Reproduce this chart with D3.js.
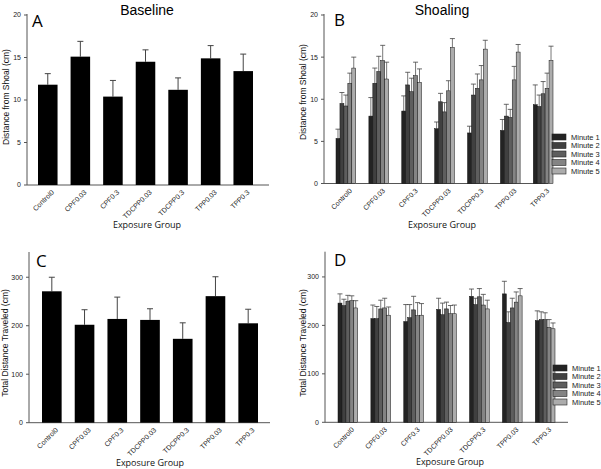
<!DOCTYPE html>
<html>
<head>
<meta charset="utf-8">
<script src="https://cdn.jsdelivr.net/npm/d3@7"></script>
<style>
  body { margin: 0; background: #fff; }
  svg { display: block; font-family: "Liberation Sans", Arial, sans-serif; }
</style>
</head>
<body>
<svg id="fig" width="601" height="469"></svg>
<script>
// groups on the x axis
var groups = ["Control0", "CPF0.03", "CPF0.3", "TDCPP0.03", "TDCPP0.3", "TPP0.03", "TPP0.3"];
var minutes = ["Minute 1", "Minute 2", "Minute 3", "Minute 4", "Minute 5"];

// A: baseline distance from shoal (mean, mean+sem)
var baselineMean = [11.8, 15.1, 10.4, 14.5, 11.2, 14.9, 13.4];
var baselineErr  = [13.1, 16.9, 12.3, 15.9, 12.6, 16.4, 15.4];

// B: shoaling per minute, one row per group
var shoalMean = [
  [5.35, 9.5, 9.2, 11.9, 13.7],
  [8.0, 11.9, 13.3, 14.6, 12.4],
  [8.6, 11.7, 10.9, 12.8, 12.0],
  [6.5, 9.7, 8.5, 11.0, 16.15],
  [6.0, 10.5, 11.3, 12.3, 15.95],
  [6.3, 8.0, 7.85, 12.3, 15.6],
  [9.35, 9.15, 10.65, 11.3, 14.6]
];
var shoalErr = [
  [6.45, 10.8, 10.5, 13.1, 15.0],
  [10.2, 13.7, 15.1, 16.4, 14.4],
  [10.4, 13.2, 12.5, 14.4, 13.6],
  [7.3, 10.7, 9.6, 12.2, 17.2],
  [6.8, 11.8, 13.0, 14.0, 17.0],
  [7.6, 9.4, 8.8, 13.9, 16.5],
  [11.7, 10.5, 12.1, 13.1, 16.3]
];

// C: total distance traveled
var distMean = [271, 202, 214, 212, 173, 261, 205];
var distErr  = [300, 233, 259, 235, 206, 301, 234];

// D: distance per minute
var minDistMean = [
  [246, 241, 250, 251, 236],
  [214, 214, 234, 236, 221],
  [208, 216, 232, 220, 221],
  [233, 222, 234, 224, 224],
  [260, 243, 259, 242, 234],
  [265, 206, 236, 248, 261],
  [210, 212, 212, 196, 193]
];
var minDistErr = [
  [265, 254, 262, 261, 251],
  [242, 239, 252, 256, 238],
  [243, 243, 260, 247, 245],
  [256, 246, 248, 241, 242],
  [275, 256, 276, 264, 252],
  [291, 228, 256, 269, 276],
  [230, 228, 226, 212, 205]
];

var fillColors = ["#232323", "#404040", "#5e5e5e", "#848484", "#acacac"];

var svg = d3.select("#fig");

function drawPanel(p) {
  var g = svg.append("g");
  var y = d3.scaleLinear().domain([0, p.yMax]).range([p.y0, p.y1]);
  var x = d3.scaleBand().domain(groups).range(p.band).paddingInner(0.4).paddingOuter(0);

  // axes
  g.append("line")
    .attr("x1", p.ax).attr("x2", p.ax).attr("y1", p.y0).attr("y2", p.y1 - 1)
    .attr("stroke", "#555").attr("stroke-width", 1);
  g.append("line")
    .attr("x1", p.ax).attr("x2", p.axEnd).attr("y1", p.y0).attr("y2", p.y0)
    .attr("stroke", "#555").attr("stroke-width", 1);

  p.ticks.forEach(function(t) {
    g.append("line")
      .attr("x1", p.ax - 3).attr("x2", p.ax).attr("y1", y(t)).attr("y2", y(t))
      .attr("stroke", "#555");
    g.append("text")
      .attr("x", p.ax - 6).attr("y", y(t)).attr("dy", "0.35em")
      .style("text-anchor", "end").style("font-size", "7px").style("fill", "#222")
      .text(t);
  });

  groups.forEach(function(name) {
    g.append("text")
      .attr("transform", "translate(" + (x(name) + x.bandwidth() / 2 + 5) + "," + (p.y0 + 6) + ") rotate(-45)")
      .attr("dy", "0.35em")
      .style("text-anchor", "end").style("font-size", "7px").style("fill", "#222")
      .text(name);
  });

  if (p.means) {
    groups.forEach(function(name, i) {
      var bx = x(name), bw = x.bandwidth(), cx = bx + bw / 2;
      g.append("line")
        .attr("x1", cx).attr("x2", cx).attr("y1", y(p.means[i])).attr("y2", y(p.errs[i]))
        .attr("stroke", "#444");
      g.append("line")
        .attr("x1", cx - 3).attr("x2", cx + 3).attr("y1", y(p.errs[i])).attr("y2", y(p.errs[i]))
        .attr("stroke", "#444");
      g.append("rect")
        .attr("x", bx).attr("y", y(p.means[i]))
        .attr("width", bw).attr("height", y(0) - y(p.means[i]))
        .attr("fill", "#000");
    });
  }

  if (p.groupMeans) {
    var xs = d3.scaleBand().domain(minutes).range([0, x.bandwidth()]);
    groups.forEach(function(name, i) {
      minutes.forEach(function(m, j) {
        var bx = x(name) + xs(m), bw = xs.bandwidth(), cx = bx + bw / 2;
        var v = p.groupMeans[i][j], e = p.groupErrs[i][j];
        g.append("line")
          .attr("x1", cx).attr("x2", cx).attr("y1", y(v)).attr("y2", y(e))
          .attr("stroke", "#555").attr("stroke-width", 0.8);
        g.append("line")
          .attr("x1", cx - 2.5).attr("x2", cx + 2.5).attr("y1", y(e)).attr("y2", y(e))
          .attr("stroke", "#444").attr("stroke-width", 0.8);
        g.append("rect")
          .attr("x", bx).attr("y", y(v))
          .attr("width", bw).attr("height", y(0) - y(v))
          .attr("fill", fillColors[j]).attr("stroke", "#111").attr("stroke-width", 0.5);
      });
    });

    minutes.forEach(function(m, j) {
      var ly = p.legendY + j * 8.5;
      g.append("rect")
        .attr("x", p.legendX).attr("y", ly).attr("width", 14).attr("height", 6)
        .attr("fill", fillColors[j]).attr("stroke", "#222").attr("stroke-width", 0.6);
      g.append("text")
        .attr("x", p.legendX + 19).attr("y", ly + 3).attr("dy", "0.35em")
        .style("font-size", "7.5px").style("fill", "#222")
        .text(m);
    });
  }

  // y label
  g.append("text")
    .attr("transform", "translate(" + p.ylabX + "," + p.ylabY + ") rotate(-90)")
    .style("text-anchor", "middle").style("font-size", "8.5px").style("fill", "#111")
    .text(p.ylab);

  // x label
  g.append("text")
    .attr("x", p.xlabX).attr("y", p.xlabY)
    .style("text-anchor", "middle").style("font-size", "9px").style("fill", "#111")
    .style("font-family", "'Open Sans', sans-serif")
    .text("Exposure Group");

  // panel letter
  g.append("text")
    .attr("x", p.letterX).attr("y", p.letterY)
    .style("font-size", "17px").style("fill", "#000")
    .style("font-family", "'Open Sans', sans-serif")
    .text(p.letter);

  if (p.title) {
    g.append("text")
      .attr("x", p.titleX).attr("y", 15)
      .style("text-anchor", "middle").style("font-size", "14px").style("fill", "#000")
      .text(p.title);
  }
}

drawPanel({
  letter: "A", letterX: 32, letterY: 27, title: "Baseline", titleX: 147,
  ax: 27, axEnd: 269, y0: 185, y1: 15, yMax: 20, ticks: [0, 5, 10, 15, 20],
  band: [38, 253], means: baselineMean, errs: baselineErr,
  ylab: "Distance from Shoal (cm)", ylabX: 9, ylabY: 97,
  xlabX: 147, xlabY: 228
});

drawPanel({
  letter: "B", letterX: 334, letterY: 26, title: "Shoaling", titleX: 442,
  ax: 324, axEnd: 548, y0: 183.5, y1: 15, yMax: 20, ticks: [0, 5, 10, 15, 20],
  band: [336, 553], groupMeans: shoalMean, groupErrs: shoalErr,
  legendX: 552, legendY: 134,
  ylab: "Distance from Shoal (cm)", ylabX: 306, ylabY: 92,
  xlabX: 442, xlabY: 228
});

drawPanel({
  letter: "C", letterX: 36, letterY: 267,
  ax: 29, axEnd: 270, y0: 422.7, y1: 253, yMax: 350, ticks: [0, 100, 200, 300],
  band: [42, 258], means: distMean, errs: distErr,
  ylab: "Total Distance Traveled (cm)", ylabX: 8, ylabY: 343,
  xlabX: 150, xlabY: 466
});

drawPanel({
  letter: "D", letterX: 334, letterY: 266,
  ax: 325, axEnd: 568, y0: 422.3, y1: 252.7, yMax: 350, ticks: [0, 100, 200, 300],
  band: [338, 555], groupMeans: minDistMean, groupErrs: minDistErr,
  legendX: 553, legendY: 365,
  ylab: "Total Distance Traveled (cm)", ylabX: 306, ylabY: 343,
  xlabX: 450, xlabY: 465
});
</script>
</body>
</html>
